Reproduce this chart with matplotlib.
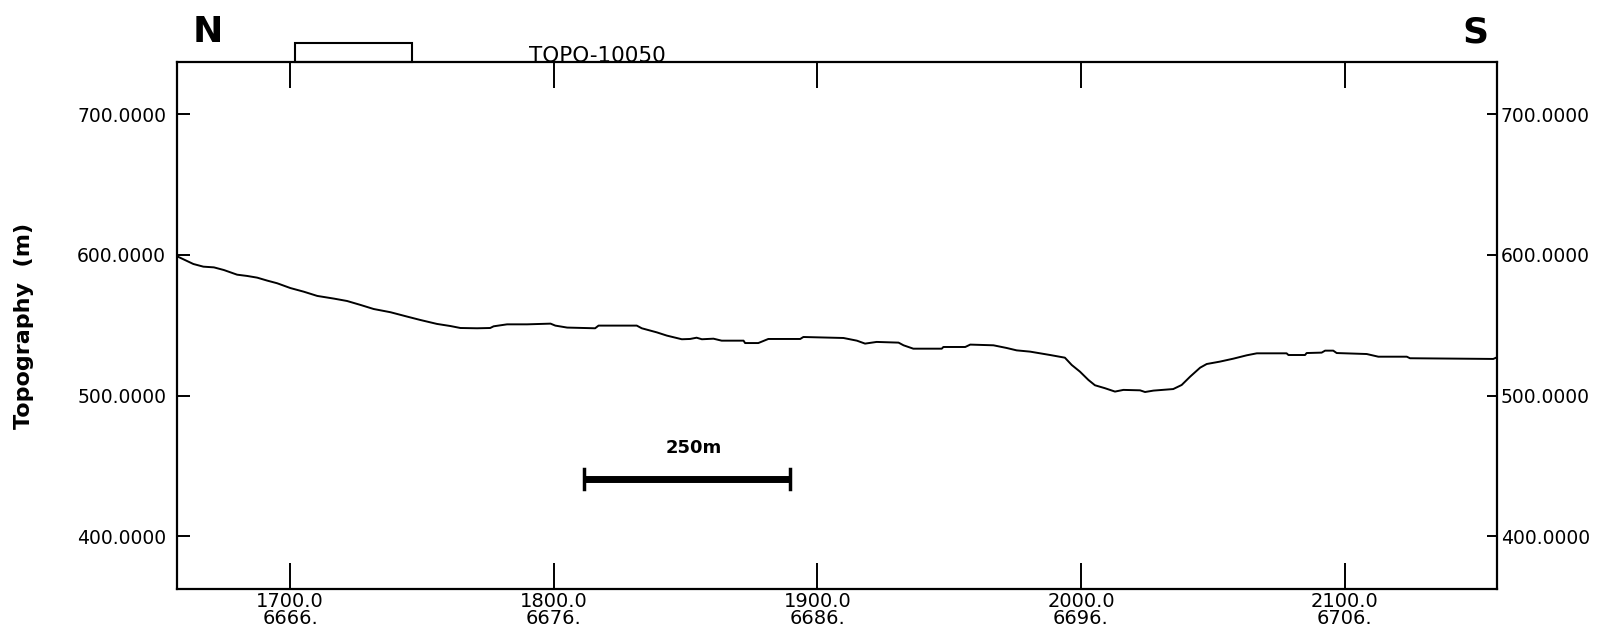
import matplotlib
matplotlib.use("Agg")
import matplotlib.pyplot as plt
from matplotlib.patches import Rectangle

# Topography profile TOPO-10050
dist = [1657.2, 1663.3, 1667.1, 1671.1, 1674.9, 1679.9, 1683.7, 1687.5, 1691.3, 1695.1,
        1700.1, 1705.2, 1710.3, 1716.6, 1721.6, 1726.7, 1731.7, 1738.1, 1744.4, 1749.4,
        1755.7, 1760.8, 1764.6, 1770.9, 1775.9, 1777.2, 1782.3, 1789.9, 1798.8, 1800.6,
        1805.1, 1815.7, 1817.0, 1831.5, 1833.4, 1839.1, 1842.9, 1848.6, 1851.7, 1854.2,
        1856.2, 1860.6, 1863.7, 1872.0, 1872.6, 1877.6, 1881.4, 1893.5, 1894.7, 1909.9,
        1915.0, 1918.1, 1922.5, 1930.8, 1932.7, 1936.4, 1947.2, 1947.8, 1956.1, 1958.0,
        1966.8, 1971.8, 1975.6, 1980.7, 1988.3, 1993.9, 1996.5, 1999.6, 2002.8, 2005.3,
        2009.1, 2012.9, 2016.1, 2022.4, 2024.3, 2027.5, 2035.0, 2038.2, 2041.4, 2045.2,
        2047.7, 2052.7, 2057.8, 2062.9, 2066.7, 2078.0, 2078.7, 2085.0, 2085.6, 2091.3,
        2092.6, 2095.7, 2097.0, 2108.4, 2112.8, 2123.6, 2124.8, 2156.4, 2157.7]
elev = [599.0, 593.6, 591.7, 591.2, 589.3, 586.0, 585.1, 583.9, 581.8, 579.9,
        576.5, 573.9, 570.9, 569.0, 567.3, 564.5, 561.6, 559.3, 556.2, 553.8,
        551.0, 549.5, 548.1, 547.9, 548.1, 549.3, 550.7, 550.7, 551.2, 549.8,
        548.4, 547.9, 549.8, 549.8, 547.9, 545.0, 542.7, 540.1, 540.3, 541.2,
        540.1, 540.5, 539.1, 539.1, 537.4, 537.4, 540.3, 540.3, 541.7, 541.0,
        539.1, 537.0, 538.2, 537.7, 535.8, 533.4, 533.4, 534.6, 534.6, 536.3,
        535.8, 533.9, 532.2, 531.3, 528.9, 527.0, 521.8, 517.1, 511.2, 507.4,
        505.3, 502.9, 504.1, 503.8, 502.6, 503.6, 504.7, 507.6, 513.5, 519.9,
        522.5, 524.2, 526.3, 528.7, 530.1, 530.1, 528.9, 528.9, 530.3, 530.6,
        532.0, 532.0, 530.3, 529.6, 527.7, 527.7, 526.6, 526.1, 527.2]

x_ticks = [1700, 1800, 1900, 2000, 2100]
stations = ["6666.", "6676.", "6686.", "6696.", "6706."]
y_ticks = [400, 500, 600, 700]

fig = plt.figure(figsize=(16.13, 6.40), dpi=100)
ax = fig.add_axes([0.1099, 0.0791, 0.8180, 0.8245])

ax.plot(dist, elev, color="black", linewidth=1.4)
ax.set_xlim(1657.2, 2157.7)
ax.set_ylim(362.3, 737.4)

for s in ax.spines.values():
    s.set_linewidth(1.6)

ax.set_xticks(x_ticks)
ax.set_xticklabels([f"{x:.1f}\n{s}" for x, s in zip(x_ticks, stations)],
                   fontsize=14, linespacing=0.85)
ax.tick_params(axis="x", direction="in", length=19, width=1.4, top=True, pad=2)
ax.set_yticks(y_ticks)
ax.set_yticklabels([f"{y:.4f}" for y in y_ticks], fontsize=13.5)
ax.tick_params(axis="y", direction="in", length=9, width=1.4, pad=8)

# right-hand axis labels
ax2 = ax.twinx()
ax2.set_ylim(ax.get_ylim())
ax2.set_yticks(y_ticks)
ax2.set_yticklabels([f"{y:.4f}" for y in y_ticks], fontsize=13.5)
ax2.tick_params(axis="y", direction="in", length=7, width=1.4, pad=3)
for s in ax2.spines.values():
    s.set_visible(False)

ax.set_ylabel("Topography  (m)", fontsize=16, fontweight="bold", labelpad=31)

# profile box and name above the frame
ax.add_patch(Rectangle((1701.7, 737.4), 44.4, 13.1, fill=False, edgecolor="black",
                       linewidth=1.5, clip_on=False))
ax.text(1790.5, 737.0, "TOPO-10050", fontsize=15.5, ha="left", va="baseline")

# 250 m scale bar
ax.plot([1811.5, 1889.6], [440.8, 440.8], color="black", linewidth=5, solid_capstyle="butt")
ax.plot([1811.5, 1811.5], [433.5, 448.0], color="black", linewidth=2.5)
ax.plot([1889.6, 1889.6], [433.5, 448.0], color="black", linewidth=2.5)
ax.text(1853, 459.3, "250m", fontsize=13, fontweight="bold", ha="center", va="baseline")

fig.text(0.129, 0.934, "N", fontsize=26, fontweight="bold", ha="center", va="baseline")
fig.text(0.9145, 0.934, "S", fontsize=26, fontweight="bold", ha="center", va="baseline")

fig.savefig("out.png", dpi=100)
